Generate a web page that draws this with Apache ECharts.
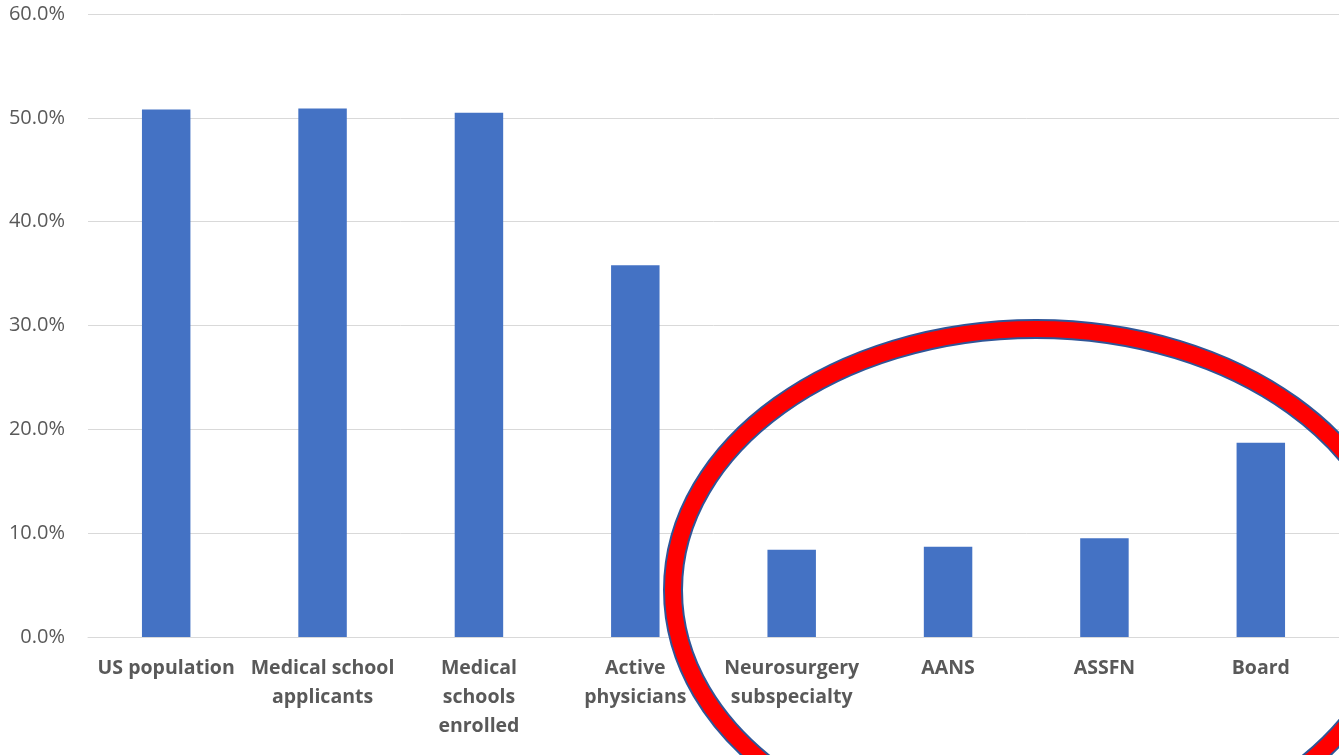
<!DOCTYPE html>
<html>
<head>
<meta charset="utf-8">
<script src="https://cdn.jsdelivr.net/npm/echarts@6/dist/echarts.min.js"></script>
<style>
html,body{margin:0;padding:0;background:#fff;}
#chart{width:1339px;height:755px;}
</style>
</head>
<body>
<div id="chart"></div>
<script>
var categories = [
  "US population",
  "Medical school\napplicants",
  "Medical\nschools\nenrolled",
  "Active\nphysicians",
  "Neurosurgery\nsubspecialty",
  "AANS",
  "ASSFN",
  "Board"
];
var values = [50.8, 50.9, 50.5, 35.8, 8.4, 8.7, 9.5, 18.7];
var yTicks = { min: 0, max: 60, interval: 10 };

var chart = echarts.init(document.getElementById('chart'));
chart.setOption({
  animation: false,
  backgroundColor: '#ffffff',
  grid: { left: 88, right: 0, top: 14, bottom: 118, containLabel: false },
  xAxis: {
    type: 'category',
    data: categories,
    axisLine: { show: true, lineStyle: { color: '#D9D9D9', width: 1 } },
    axisTick: { show: false },
    axisLabel: {
      interval: 0,
      margin: 17,
      color: '#595959',
      fontFamily: 'Open Sans',
      fontWeight: 'bold',
      fontSize: 19.5,
      lineHeight: 29
    }
  },
  yAxis: {
    type: 'value',
    min: yTicks.min,
    max: yTicks.max,
    interval: yTicks.interval,
    axisLine: { show: false },
    axisTick: { show: false },
    splitLine: { lineStyle: { color: '#D9D9D9', width: 1 } },
    axisLabel: {
      margin: 23,
      color: '#595959',
      fontFamily: 'Open Sans',
      fontSize: 20,
      formatter: function (v) { return v.toFixed(1) + '%'; }
    }
  },
  series: [{
    type: 'bar',
    data: values,
    barWidth: '31%',
    itemStyle: { color: '#4472C4' }
  }],
  graphic: [
    {
      type: 'ellipse',
      z: 100,
      shape: { cx: 1036, cy: 590, rx: 363, ry: 261 },
      style: { fill: 'none', stroke: '#2F5597', lineWidth: 20 }
    },
    {
      type: 'ellipse',
      z: 101,
      shape: { cx: 1036, cy: 590, rx: 363, ry: 261 },
      style: { fill: 'none', stroke: '#FF0000', lineWidth: 16 }
    }
  ]
});
</script>
</body>
</html>
